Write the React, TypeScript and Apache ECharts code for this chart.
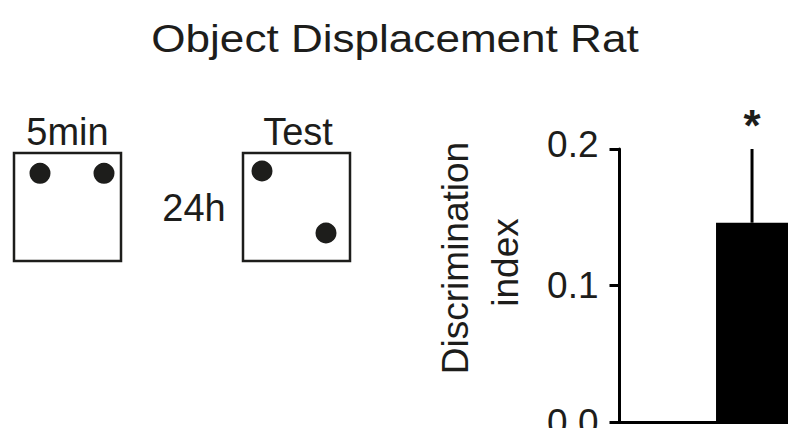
import React, { useEffect, useRef } from "react";
import * as echarts from "echarts";

const titleText = "Object Displacement Rat";
const categories = ["", "Rat"];
const means: (number | null)[] = [null, 0.146];
const sems: (number | null)[] = [null, 0.054];
const significance = ["", "*"];
const yMin = 0;
const yMax = 0.2;
const yInterval = 0.1;
const yNameLines = ["Discrimination", "index"];
const leftLabels = ["5min", "24h", "Test"];

const FONT = '"Liberation Sans", Arial, Helvetica, sans-serif';
const INK = "#1d1d1b";

export default function App() {
  const ref = useRef<HTMLDivElement>(null);
  useEffect(() => {
    document.body.style.margin = "0";
    if (!ref.current) return;
    const chart = echarts.init(ref.current, undefined, { renderer: "svg" });
    const errData = means
      .map((m, i) => (m == null || sems[i] == null ? null : [i, m, sems[i] as number]))
      .filter((d) => d != null);

    const txt = (text: string, x: number, y: number, size: number, extra: any = {}) => ({
      type: "text",
      x,
      y,
      ...extra,
      style: {
        text,
        fill: INK,
        font: `${size}px ${FONT}`,
        textAlign: "center",
        textVerticalAlign: "middle",
      },
    });
    const box = (x: number) => ({
      type: "rect",
      shape: { x, y: 153, width: 107, height: 108 },
      style: { fill: "#fff", stroke: INK, lineWidth: 2.5 },
    });
    const dot = (cx: number, cy: number) => ({
      type: "circle",
      shape: { cx, cy, r: 10.5 },
      style: { fill: INK },
    });

    chart.setOption({
      animation: false,
      backgroundColor: "#fff",
      grid: {
        left: 619.5,
        right: 23.8,
        top: 149,
        bottom: 6,
        containLabel: false,
        outerBoundsMode: "none",
      },
      graphic: [
        txt(titleText, 395, 38.8, 38, { scaleX: 1.16 }),
        box(14),
        box(243),
        dot(40, 173.3),
        dot(104, 173.3),
        dot(262, 171),
        dot(326, 233),
        txt(leftLabels[0], 67.5, 131.8, 38),
        txt(leftLabels[1], 194, 207.8, 38),
        txt(leftLabels[2], 298, 131.8, 38),
        txt(yNameLines[0], 455.2, 258, 37, { rotation: Math.PI / 2 }),
        txt(yNameLines[1], 505.2, 262.5, 37, { rotation: Math.PI / 2 }),
      ],
      xAxis: {
        type: "category",
        data: categories,
        axisLine: { show: true, lineStyle: { color: "#000", width: 3 } },
        axisTick: { show: false },
        axisLabel: { show: false },
        splitLine: { show: false },
      },
      yAxis: {
        type: "value",
        min: yMin,
        max: yMax,
        interval: yInterval,
        axisLine: { show: true, lineStyle: { color: "#000", width: 3 } },
        axisTick: { show: true, length: 10, lineStyle: { color: "#000", width: 3 } },
        splitLine: { show: false },
        axisLabel: {
          margin: 21,
          color: INK,
          fontSize: 37,
          fontFamily: FONT,
          formatter: (v: number) =>
            Math.abs(v - yMax) < 1e-9 ? `{t|${v.toFixed(1)}}` : `{n|${v.toFixed(1)}}`,
          rich: {
            t: { fontSize: 37, fontFamily: FONT, color: INK, padding: [0, 0, 10, 0] },
            n: { fontSize: 37, fontFamily: FONT, color: INK },
          },
        },
      },
      series: [
        {
          type: "bar",
          data: means.map((m) => (m == null ? "-" : m)),
          barWidth: 72,
          itemStyle: { color: "#000" },
          silent: true,
        },
        {
          type: "custom",
          data: errData,
          encode: { x: 0, y: 1 },
          silent: true,
          z: 3,
          renderItem: (params: any, api: any) => {
            const i = api.value(0);
            const m = api.value(1);
            const e = api.value(2);
            const p0 = api.coord([i, m]);
            const p1 = api.coord([i, m + e]);
            return {
              type: "group",
              children: [
                {
                  type: "line",
                  shape: { x1: p0[0], y1: p0[1], x2: p1[0], y2: p1[1] },
                  style: { stroke: "#000", lineWidth: 3 },
                },
                {
                  type: "text",
                  x: p1[0],
                  y: p1[1] - 24,
                  style: {
                    text: significance[i],
                    fill: INK,
                    font: `bold 44px ${FONT}`,
                    textAlign: "center",
                    textVerticalAlign: "middle",
                  },
                },
              ],
            };
          },
        },
      ],
    });
    return () => chart.dispose();
  }, []);
  return (
    <div style={{ width: 788, height: 428, overflow: "hidden", position: "relative" }}>
      <div ref={ref} style={{ width: 820, height: 428 }} />
    </div>
  );
}
